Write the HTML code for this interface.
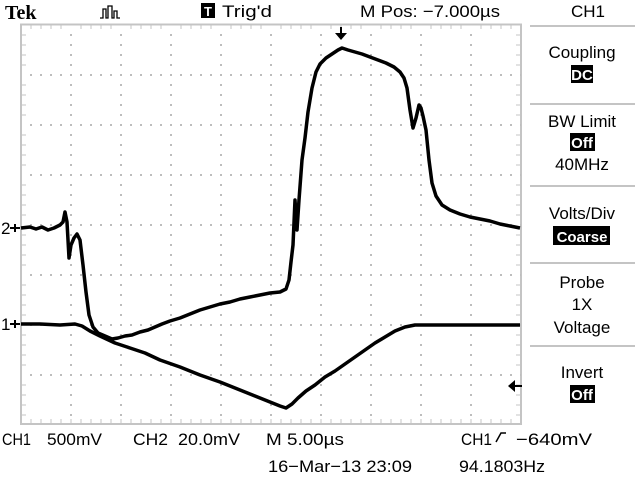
<!DOCTYPE html>
<html><head><meta charset="utf-8"><style>
html,body{margin:0;padding:0;background:#fff;}
svg{display:block}
text{font-family:"Liberation Sans",sans-serif;font-size:17px;fill:#000}
</style></head><body>
<svg width="640" height="480" viewBox="0 0 640 480" xmlns="http://www.w3.org/2000/svg">
<rect width="640" height="480" fill="#fff"/>
<g stroke="#c4c4c4" fill="none">
<rect x="21" y="24.5" width="500" height="399.5" stroke-width="2"/>
</g>
<g stroke="#c4c4c4" stroke-width="1">
<path d="M31 25v4M41 25v4M51 25v4M61 25v4M81 25v4M91 25v4M101 25v4M111 25v4M131 25v4M141 25v4M151 25v4M161 25v4M181 25v4M191 25v4M201 25v4M211 25v4M231 25v4M241 25v4M251 25v4M261 25v4M281 25v4M291 25v4M301 25v4M311 25v4M331 25v4M341 25v4M351 25v4M361 25v4M381 25v4M391 25v4M401 25v4M411 25v4M431 25v4M441 25v4M451 25v4M461 25v4M481 25v4M491 25v4M501 25v4M511 25v4"/>
<path d="M31 423v-4M41 423v-4M51 423v-4M61 423v-4M71 423v-4M81 423v-4M91 423v-4M101 423v-4M111 423v-4M121 423v-4M131 423v-4M141 423v-4M151 423v-4M161 423v-4M171 423v-4M181 423v-4M191 423v-4M201 423v-4M211 423v-4M221 423v-4M231 423v-4M241 423v-4M251 423v-4M261 423v-4M271 423v-4M281 423v-4M291 423v-4M301 423v-4M311 423v-4M321 423v-4M331 423v-4M341 423v-4M351 423v-4M361 423v-4M371 423v-4M381 423v-4M391 423v-4M401 423v-4M411 423v-4M421 423v-4M431 423v-4M441 423v-4M451 423v-4M461 423v-4M471 423v-4M481 423v-4M491 423v-4M501 423v-4M511 423v-4"/>
<path d="M22 35h4M22 45h4M22 55h4M22 65h4M22 85h4M22 95h4M22 105h4M22 115h4M22 135h4M22 145h4M22 155h4M22 165h4M22 185h4M22 195h4M22 205h4M22 215h4M22 235h4M22 245h4M22 255h4M22 265h4M22 285h4M22 295h4M22 305h4M22 315h4M22 335h4M22 345h4M22 355h4M22 365h4M22 385h4M22 395h4M22 405h4M22 415h4"/>
<path d="M520 35h-4M520 45h-4M520 55h-4M520 65h-4M520 85h-4M520 95h-4M520 105h-4M520 115h-4M520 135h-4M520 145h-4M520 155h-4M520 165h-4M520 185h-4M520 195h-4M520 205h-4M520 215h-4M520 235h-4M520 245h-4M520 255h-4M520 265h-4M520 285h-4M520 295h-4M520 305h-4M520 315h-4M520 335h-4M520 345h-4M520 355h-4M520 365h-4M520 385h-4M520 395h-4M520 405h-4M520 415h-4"/>
</g>
<g stroke="#bdbdbd" stroke-width="2" stroke-dasharray="2 8">
<path d="M71 34V424M121 34V424M171 34V424M221 34V424M271 34V424M321 34V424M371 34V424M421 34V424M471 34V424"/>
<path d="M30 75H521M30 125H521M30 175H521M30 225H521M30 275H521M30 325H521M30 375H521"/>
</g>
<polyline fill="none" stroke="#000" stroke-width="3.5" stroke-linejoin="round" points="
21,228 30,227 36,229 42,227 48,230 54,228 60,225 63,222 65,212 67,222 68,240 69,258 71,245 74,238 77,234 80,240 83,265 86,292 89,315 93,327 98,333 105,336 112,339 118,338 125,336 132,335 140,332 148,330 155,327 162,324 170,321 180,318 190,314 200,310 210,307 220,304 230,302 240,299 250,297 260,295 270,293 280,292 286,289 289,280 291,262 293,245 295,200 297,230 299,200 302,160 305,138 308,112 312,88 316,72 320,64 326,58 332,54 338,50 342,48 348,50 355,52 362,54 370,57 378,60 386,63 394,67 400,72 404,78 407,88 410,110 413,128 416,118 419,105 421,108 423,116 426,130 429,160 432,183 436,196 442,205 450,210 460,214 470,217 480,219 490,221 500,224 510,226 520,228"/>
<polyline fill="none" stroke="#000" stroke-width="3.5" stroke-linejoin="round" points="
21,324 40,324 60,325 75,324 82,326 90,331 100,336 115,343 130,348 145,353 160,360 180,367 200,375 220,382 240,390 255,396 270,402 280,406 286,408 292,404 298,398 306,391 315,385 325,377 335,371 345,364 355,357 365,350 375,343 385,337 395,331 405,327 415,325 430,325 460,325 490,325 520,325"/>
<text x="1" y="234" style="font-size:17px">2</text>
<path d="M10 228h10M15 224v8" stroke="#000" stroke-width="2"/>
<text x="1" y="330" style="font-size:17px">1</text>
<path d="M10 324h10M15 320v8" stroke="#000" stroke-width="2"/>
<path d="M341 27v12" stroke="#000" stroke-width="2"/>
<polygon points="335,33 347,33 341,40" fill="#000"/>
<path d="M512 386h10" stroke="#000" stroke-width="2"/>
<polygon points="508,386 515,380 515,392" fill="#000"/>
<text x="5" y="19" style="font-family:'Liberation Serif',serif;font-weight:bold;font-size:20px">Tek</text>
<path d="M100 18h3v-9h3v9h2v-12h4v12h2v-7h3v7h3" fill="none" stroke="#000" stroke-width="1.3"/>
<rect x="201" y="3" width="14" height="15" fill="#000"/>
<text x="204" y="16" style="fill:#fff;font-size:13px;font-weight:bold">T</text>
<text x="222" y="17" textLength="50" lengthAdjust="spacingAndGlyphs">Trig'd</text>
<text x="360" y="17" textLength="140" lengthAdjust="spacingAndGlyphs">M Pos: −7.000µs</text>
<text x="571" y="17">CH1</text>
<g stroke="#c4c4c4" stroke-width="2">
<path d="M530 26H635M530 104H635M530 186H635M530 263H635M530 346H635"/>
</g>
<g text-anchor="middle">
<text x="582" y="58">Coupling</text>
<rect x="571" y="65" width="22" height="18" fill="#000"/>
<text x="582" y="80" style="fill:#fff;font-weight:bold;font-size:15px">DC</text>
<text x="582" y="127">BW Limit</text>
<rect x="570" y="133" width="25" height="18" fill="#000"/>
<text x="582" y="148" style="fill:#fff;font-weight:bold;font-size:15px">Off</text>
<text x="582" y="170">40MHz</text>
<text x="582" y="219">Volts/Div</text>
<rect x="553" y="226" width="57" height="19" fill="#000"/>
<text x="582" y="242" style="fill:#fff;font-weight:bold;font-size:15px">Coarse</text>
<text x="582" y="288">Probe</text>
<text x="582" y="310">1X</text>
<text x="582" y="333">Voltage</text>
<text x="582" y="378">Invert</text>
<rect x="570" y="385" width="25" height="18" fill="#000"/>
<text x="582" y="400" style="fill:#fff;font-weight:bold;font-size:15px">Off</text>
</g>
<text x="2" y="445" textLength="29" lengthAdjust="spacingAndGlyphs">CH1</text>
<text x="47" y="445" textLength="55" lengthAdjust="spacingAndGlyphs">500mV</text>
<text x="133" y="445" textLength="35" lengthAdjust="spacingAndGlyphs">CH2</text>
<text x="178" y="445" textLength="62" lengthAdjust="spacingAndGlyphs">20.0mV</text>
<text x="266" y="445" textLength="78" lengthAdjust="spacingAndGlyphs">M 5.00µs</text>
<text x="461" y="445" textLength="31" lengthAdjust="spacingAndGlyphs">CH1</text>
<path d="M496 442l5 -9h5" fill="none" stroke="#000" stroke-width="1.5"/>
<text x="516" y="445" textLength="76" lengthAdjust="spacingAndGlyphs">−640mV</text>
<text x="268" y="472" textLength="144" lengthAdjust="spacingAndGlyphs">16−Mar−13 23:09</text>
<text x="459" y="472" textLength="86" lengthAdjust="spacingAndGlyphs">94.1803Hz</text>
</svg>
</body></html>
